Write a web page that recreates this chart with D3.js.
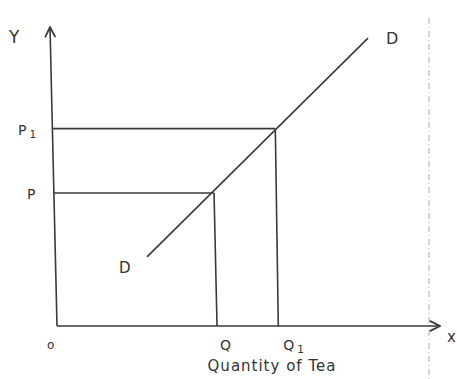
<!DOCTYPE html>
<html>
<head>
<meta charset="utf-8">
<script src="https://cdn.jsdelivr.net/npm/d3@7"></script>
<style>
  body { margin: 0; background: #fff; }
  svg { display: block; }
  text { font-family: "DejaVu Sans", sans-serif; fill: #333; }
</style>
</head>
<body>
<div id="chart"></div>
<script>
// quantity (x) and price (y), 0..100 on each axis
var quantities = [41, 57];
var qLabels = ['Q', 'Q1'];
var prices = [44.5, 66];
var pLabels = ['P', 'P1'];
var demandX = [23.5, 81.2];
var demandY = [23.1, 96.3];

var W = 457, H = 379;
var x = d3.scaleLinear().domain([0, 100]).range([57, 440]);
var y = d3.scaleLinear().domain([0, 100]).range([326, 27]);
var ink = '#3a3a3a';

var svg = d3.select('#chart').append('svg').attr('width', W).attr('height', H);

svg.append('defs').append('marker')
    .attr('id', 'arrow')
    .attr('viewBox', '0 0 10 10')
    .attr('refX', 9).attr('refY', 5)
    .attr('markerWidth', 8).attr('markerHeight', 8)
    .attr('orient', 'auto')
  .append('path')
    .attr('d', 'M1,1 L9,5 L1,9')
    .attr('fill', 'none')
    .attr('stroke', ink)
    .attr('stroke-width', 1.4);

// faint dotted fold line on the scan
svg.append('line')
    .attr('x1', 429).attr('x2', 429)
    .attr('y1', 18).attr('y2', H)
    .attr('stroke', '#aaa')
    .attr('stroke-width', 1)
    .attr('stroke-dasharray', '6,3,1,3');

// axes
svg.append('line')
    .attr('x1', x(0)).attr('y1', y(0))
    .attr('x2', x(0) - 7).attr('y2', y(100))
    .attr('stroke', ink).attr('stroke-width', 1.6)
    .attr('marker-end', 'url(#arrow)');
svg.append('line')
    .attr('x1', x(0)).attr('y1', y(0))
    .attr('x2', x(100)).attr('y2', y(0))
    .attr('stroke', ink).attr('stroke-width', 1.6)
    .attr('marker-end', 'url(#arrow)');

// guide lines from price to curve and down to quantity
var g = svg.append('g').attr('stroke', ink).attr('stroke-width', 1.6);
quantities.forEach(function(q, i){
    var p = prices[i];
    g.append('line')
        .attr('x1', x(0) - 7 * p / 100).attr('y1', y(p))
        .attr('x2', x(q)).attr('y2', y(p));
    g.append('line')
        .attr('x1', x(q)).attr('y1', y(p))
        .attr('x2', x(q) + 3).attr('y2', y(0));
});

// demand line
svg.append('path')
    .datum(demandX.map(function(d, i){ return [d, demandY[i]]; }))
    .attr('d', d3.line().x(function(d){ return x(d[0]); }).y(function(d){ return y(d[1]); }))
    .attr('fill', 'none')
    .attr('stroke', ink)
    .attr('stroke-width', 1.6);

// labels
function label(txt, px, py, size, sub){
    var t = svg.append('text')
        .attr('x', px).attr('y', py)
        .attr('font-size', size)
        .text(txt);
    if (sub) {
        t.append('tspan').attr('font-size', size * 0.75).attr('dx', 3).attr('dy', 3).text(sub);
    }
    return t;
}

label('Y', 9, 43, 17);
label('D', 386, 44, 16);
label('D', 119, 273, 15);
label('x', 447, 342, 15);
label('o', 47, 349, 12);

pLabels.forEach(function(l, i){
    label('P', i ? 18 : 27, y(prices[i]) + 6, 14, i ? '1' : null);
});
qLabels.forEach(function(l, i){
    label('Q', x(quantities[i]) + (i ? 8 : 6), 350, 14, i ? '1' : null);
});

svg.append('text')
    .attr('x', 272).attr('y', 371)
    .attr('text-anchor', 'middle')
    .attr('font-size', 15)
    .attr('letter-spacing', 1)
    .text('Quantity of Tea');
</script>
</body>
</html>
